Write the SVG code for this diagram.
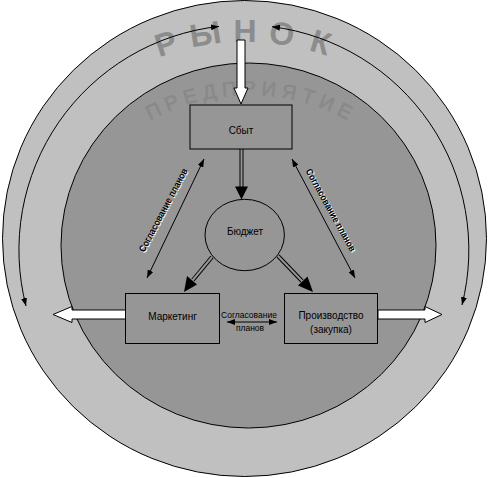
<svg xmlns="http://www.w3.org/2000/svg" width="488" height="478" viewBox="0 0 488 478">
  <defs>
    <style>
      .lbl { font-family: "Liberation Sans", Arial, sans-serif; font-size: 10px; fill: #000; text-anchor: middle; }
      .small { font-family: "Liberation Sans", Arial, sans-serif; font-size: 8.5px; fill: #000; text-anchor: middle; }
      .side { font-family: "Liberation Sans", Arial, sans-serif; font-size: 9.5px; font-weight: bold; text-anchor: middle; }
      .big { font-family: "Liberation Sans", Arial, sans-serif; font-size: 32px; font-weight: bold; fill: #8c8c8c; text-anchor: middle; }
      .box { fill: #969696; stroke: #000; stroke-width: 1; }
      .thin { fill: none; stroke: #000; stroke-width: 1; }
      .dblo { fill: none; stroke: #000; stroke-width: 4; }
      .dbli { fill: none; stroke: #969696; stroke-width: 2; }
      .white { fill: #fff; stroke: #000; stroke-width: 1; }
    </style>
    <marker id="sm" viewBox="0 0 8 6" refX="8" refY="3" markerWidth="8" markerHeight="6" markerUnits="userSpaceOnUse" orient="auto-start-reverse">
      <path d="M0,0 L8,3 L0,6 Z" fill="#000"/>
    </marker>
    <path id="predArc" d="M 44,300 A 205 205 0 0 1 454,300"/>
  </defs>

  <!-- background rings -->
  <g id="market">
    <ellipse cx="244.5" cy="238.5" rx="242" ry="238" fill="#c0c0c0" stroke="#000" stroke-width="1"/>
    <g id="rynok-title">
      <text class="big" transform="rotate(-17.8 245 290) translate(245 30.5)" y="11.5">Р</text>
      <text class="big" transform="rotate(-8.8 245 290) translate(245 30.5)" y="11.5">Ы</text>
      <text class="big" transform="translate(245 30.5)" y="11.5">Н</text>
      <text class="big" transform="rotate(8.2 245 290) translate(245 30.5)" y="11.5">О</text>
      <text class="big" transform="rotate(17 245 290) translate(245 30.5)" y="11.5">К</text>
    </g>
    <path class="thin" d="M 219,26.4 A 225 225 0 0 0 26,306" marker-start="url(#sm)" marker-end="url(#sm)"/>
    <path class="thin" d="M 272,26.7 A 225 225 0 0 1 462,305" marker-start="url(#sm)" marker-end="url(#sm)"/>
  </g>
  <g id="enterprise">
    <ellipse cx="248.5" cy="245.5" rx="187.5" ry="182.5" fill="#969696" stroke="#000" stroke-width="1"/>
    <text font-family="'Liberation Sans', Arial, sans-serif" font-size="20" fill="#898989" stroke="#898989" stroke-width="0.6" letter-spacing="5.5">
      <textPath href="#predArc" startOffset="50.4%" text-anchor="middle">ПРЕДПРИЯТИЕ</textPath>
    </text>
  </g>

  <g id="connectors">
    <!-- white arrows -->
    <polygon class="white" points="237,40 245,40 245,88 248,88 241,104 234,88 237,88"/>
    <polygon class="white" points="125.5,310 72,310 72,306.5 53,314.5 72,322.5 72,319 125.5,319"/>
    <polygon class="white" points="378,310 425,310 425,306.5 442,314.5 425,322.5 425,319 378,319"/>
    <!-- double-line arrows -->
    <path class="dblo" d="M 241.5,149 L 241.5,188"/>
    <path class="dbli" d="M 241.5,149 L 241.5,189"/>
    <polygon points="235,186.5 248,186.5 241.5,199.5" fill="#000"/>
    <path class="dblo" d="M 212,257 L 193,280"/>
    <path class="dbli" d="M 212,257 L 192,281"/>
    <polygon points="187,276 197,284.5 184,292" fill="#000"/>
    <path class="dblo" d="M 278,256 L 302,281"/>
    <path class="dbli" d="M 278,256 L 303,282"/>
    <polygon points="298,285.5 307.5,276.5 313,292" fill="#000"/>
    <!-- thin double-headed arrows -->
    <line class="thin" x1="204" y1="159" x2="147" y2="278" marker-start="url(#sm)" marker-end="url(#sm)"/>
    <line class="thin" x1="292" y1="159" x2="355" y2="278" marker-start="url(#sm)" marker-end="url(#sm)"/>
    <line class="thin" x1="227" y1="322" x2="277" y2="322" marker-start="url(#sm)" marker-end="url(#sm)"/>
    <!-- side labels -->
    <g transform="translate(1,1)">
      <text class="side" fill="#ffffff" transform="translate(163,210) rotate(-62)" y="3.5" textLength="93" lengthAdjust="spacingAndGlyphs">Согласование планов</text>
      <text class="side" fill="#ffffff" transform="translate(331,210) rotate(61)" y="3.5" textLength="93" lengthAdjust="spacingAndGlyphs">Согласование планов</text>
    </g>
    <text class="side" fill="#000" transform="translate(163,210) rotate(-62)" y="3.5" textLength="93" lengthAdjust="spacingAndGlyphs">Согласование планов</text>
    <text class="side" fill="#000" transform="translate(331,210) rotate(61)" y="3.5" textLength="93" lengthAdjust="spacingAndGlyphs">Согласование планов</text>
    <text class="small" x="249" y="318">Согласование</text>
    <text class="small" x="250" y="331">планов</text>
  </g>

  <g id="sbyt">
    <rect class="box" x="190" y="105" width="102" height="44"/>
    <text class="lbl" x="241" y="134">Сбыт</text>
  </g>
  <g id="budget">
    <ellipse cx="244.7" cy="235" rx="39.7" ry="35.7" fill="#969696" stroke="#000" stroke-width="1"/>
    <text class="lbl" x="245" y="235">Бюджет</text>
  </g>
  <g id="marketing">
    <rect class="box" x="125.5" y="293.5" width="94" height="50"/>
    <text class="lbl" x="172.5" y="320">Маркетинг</text>
  </g>
  <g id="production">
    <rect class="box" x="284.5" y="293.5" width="93" height="50"/>
    <text class="lbl" x="331" y="319">Производство</text>
    <text class="lbl" x="331" y="333">(закупка)</text>
  </g>
</svg>
